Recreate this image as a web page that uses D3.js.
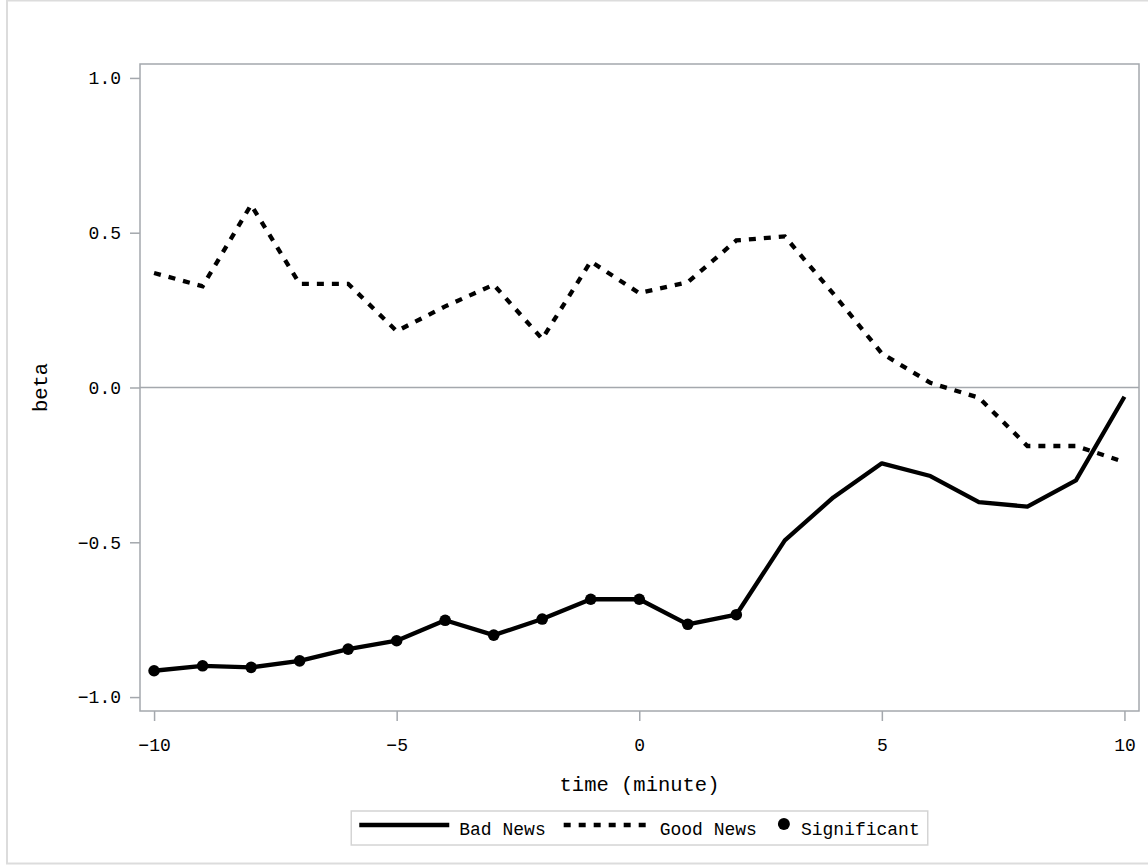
<!DOCTYPE html>
<html>
<head>
<meta charset="utf-8">
<script src="https://cdn.jsdelivr.net/npm/d3@7"></script>
<style>
  body { margin: 0; background: #fff; }
  svg text { font-family: "Liberation Mono", "DejaVu Sans Mono", monospace; fill: #000; }
</style>
</head>
<body>
<svg id="chart" width="1148" height="865"></svg>
<script>
// minutes around the news release
const minutes = d3.range(-10, 11);

// estimated betas
const badNews = [-0.915, -0.899, -0.904, -0.883, -0.845, -0.818, -0.752, -0.800, -0.748, -0.684, -0.684,
  -0.765, -0.734, -0.494, -0.355, -0.245, -0.286, -0.370, -0.385, -0.300, -0.030];
const goodNews = [0.370, 0.327, 0.590, 0.335, 0.335, 0.182, 0.262, 0.332, 0.157, 0.407, 0.305,
  0.340, 0.475, 0.488, 0.303, 0.110, 0.015, -0.033, -0.189, -0.189, -0.241];
// significance flags for the bad news betas
const badSignificant = [1, 1, 1, 1, 1, 1, 1, 1, 1, 1, 1, 1, 1, 0, 0, 0, 0, 0, 0, 0, 0];

const xTicks = [-10, -5, 0, 5, 10];
const yTicks = [-1.0, -0.5, 0.0, 0.5, 1.0];

const legendItems = [
  { label: 'Bad News', type: 'solid' },
  { label: 'Good News', type: 'dash' },
  { label: 'Significant', type: 'dot' },
];

const $svg = d3.select('#chart');
const frame = { left: 140, right: 1139, top: 64, bottom: 711 };
const gridColor = '#a4a8ad';

const x = d3.scaleLinear().domain([-10.29, 10.3]).range([frame.left, frame.right]);
const y = d3.scaleLinear().domain([-1.045, 1.045]).range([frame.bottom, frame.top]);

// outer border of the graph
$svg.append('rect')
  .attr('x', 7).attr('y', 0.5)
  .attr('width', 1160).attr('height', 863)
  .attr('fill', 'none')
  .attr('stroke', '#dcdcdc')
  .attr('stroke-width', 2);

// plot frame
$svg.append('rect')
  .attr('x', frame.left).attr('y', frame.top)
  .attr('width', frame.right - frame.left)
  .attr('height', frame.bottom - frame.top)
  .attr('fill', 'none')
  .attr('stroke', gridColor)
  .attr('stroke-width', 1.5);

// reference line at zero
$svg.append('line')
  .attr('x1', frame.left).attr('x2', frame.right)
  .attr('y1', y(0)).attr('y2', y(0))
  .attr('stroke', gridColor)
  .attr('stroke-width', 1.5);

// axes
const xAxis = $svg.append('g')
  .attr('transform', `translate(0, ${frame.bottom})`)
  .call(d3.axisBottom(x).tickValues(xTicks).tickFormat(d3.format('d')).tickSize(10).tickPadding(17));

const yAxis = $svg.append('g')
  .attr('transform', `translate(${frame.left}, 0)`)
  .call(d3.axisLeft(y).tickValues(yTicks).tickFormat(d3.format('.1f')).tickSize(10).tickPadding(9));

[xAxis, yAxis].forEach(a => {
  a.select('.domain').remove();
  a.selectAll('line').attr('stroke', gridColor).attr('stroke-width', 1.5);
  a.selectAll('text').attr('font-size', 18).style('font-family', '"Liberation Mono", monospace');
});

// axis titles
$svg.append('text')
  .attr('x', (frame.left + frame.right) / 2)
  .attr('y', 791)
  .attr('text-anchor', 'middle')
  .attr('font-size', 20.5)
  .text('time (minute)');

$svg.append('text')
  .attr('transform', `translate(47, ${y(0)}) rotate(-90)`)
  .attr('text-anchor', 'middle')
  .attr('font-size', 20.5)
  .text('beta');

// series
const line = d3.line()
  .x((d, i) => x(minutes[i]))
  .y(d => y(d));

$svg.append('path')
  .datum(goodNews)
  .attr('d', line)
  .attr('fill', 'none')
  .attr('stroke', '#000')
  .attr('stroke-width', 4.3)
  .attr('stroke-dasharray', '7,8');

$svg.append('path')
  .datum(badNews)
  .attr('d', line)
  .attr('fill', 'none')
  .attr('stroke', '#000')
  .attr('stroke-width', 4.3)
  .attr('stroke-linejoin', 'round');

$svg.append('g')
  .selectAll('circle')
  .data(badNews.map((v, i) => ({ t: minutes[i], v, sig: badSignificant[i] })).filter(d => d.sig))
  .join('circle')
  .attr('cx', d => x(d.t))
  .attr('cy', d => y(d.v))
  .attr('r', 5.8)
  .attr('fill', '#000');

// legend
const legend = $svg.append('g');
const legendBox = legend.append('rect')
  .attr('fill', '#fff')
  .attr('stroke', '#d4d4d4')
  .attr('stroke-width', 1.5);
const items = legend.append('g');
const itemGap = 18;
let cursor = 0;
legendItems.forEach(item => {
  const g = items.append('g').attr('transform', `translate(${cursor}, 0)`);
  let w;
  if (item.type === 'dot') {
    g.append('circle').attr('cx', 9).attr('cy', -1).attr('r', 6).attr('fill', '#000');
    w = 26;
  } else {
    g.append('line')
      .attr('x1', 0).attr('x2', item.type === 'dash' ? 82 : 90)
      .attr('y1', 0).attr('y2', 0)
      .attr('stroke', '#000')
      .attr('stroke-width', 4.3)
      .attr('stroke-dasharray', item.type === 'dash' ? '7,8' : null);
    w = item.type === 'dash' ? 96 : 100;
  }
  const txt = g.append('text')
    .attr('x', w)
    .attr('y', 4)
    .attr('dy', '0.32em')
    .attr('font-size', 18)
    .text(item.label);
  cursor += w + txt.node().getComputedTextLength() + itemGap;
});
const contentW = cursor - itemGap;
const boxW = contentW + 16;
const boxX = (frame.left + frame.right) / 2 - boxW / 2;
legendBox.attr('x', boxX).attr('y', 811).attr('width', boxW).attr('height', 34);
items.attr('transform', `translate(${boxX + 8}, 825)`);
</script>
</body>
</html>
